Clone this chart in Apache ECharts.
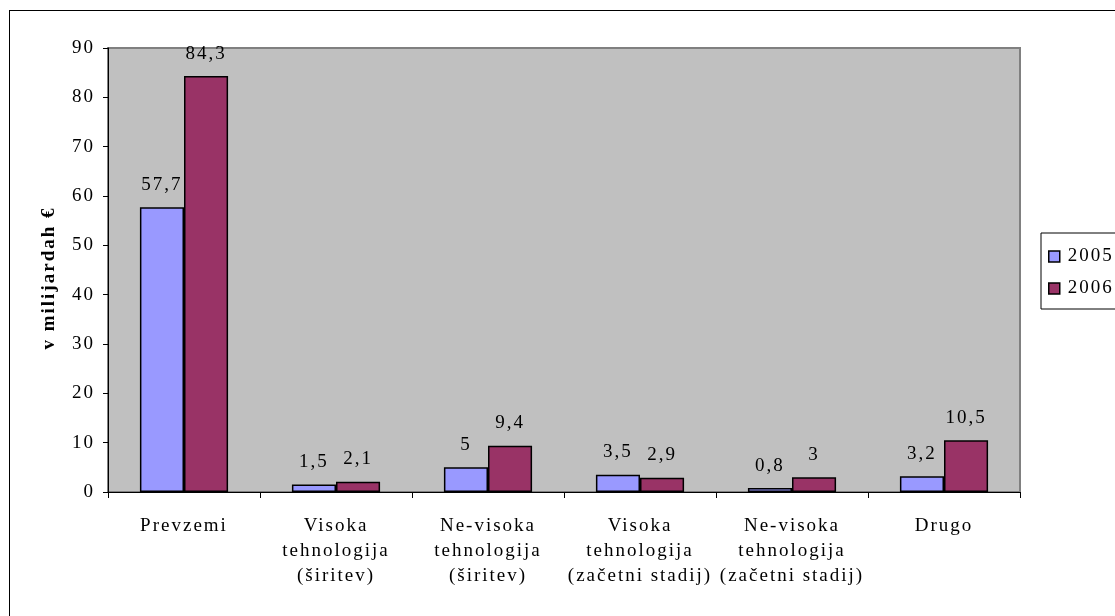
<!DOCTYPE html>
<html>
<head>
<meta charset="utf-8">
<script src="https://cdn.jsdelivr.net/npm/echarts@6/dist/echarts.min.js"></script>
<style>
  html, body { margin: 0; padding: 0; background: #fff; overflow: hidden; }
  #frame {
    position: absolute; left: 9px; top: 10px;
    width: 1200px; height: 700px;
    border: 1px solid #000;
  }
  #chart { position: absolute; left: 0; top: 0; width: 1115px; height: 616px; }
</style>
</head>
<body>
<div id="frame"></div>
<div id="chart"></div>
<script>
const categories = [
  "Prevzemi",
  "Visoka\ntehnologija\n(širitev)",
  "Ne-visoka\ntehnologija\n(širitev)",
  "Visoka\ntehnologija\n(začetni stadij)",
  "Ne-visoka\ntehnologija\n(začetni stadij)",
  "Drugo"
];
const values2005 = [57.7, 1.5, 5, 3.5, 0.8, 3.2];
const values2006 = [84.3, 2.1, 9.4, 2.9, 3, 10.5];
const seriesNames = ["2005", "2006"];

// the original (Excel) lettering is spaced out, so give canvas text some tracking
const proto = CanvasRenderingContext2D.prototype;
const origFill = proto.fillText;
const origMeasure = proto.measureText;
proto.fillText = function () { this.letterSpacing = "2px"; return origFill.apply(this, arguments); };
proto.measureText = function () { this.letterSpacing = "2px"; return origMeasure.apply(this, arguments); };

const font = "'Liberation Serif', 'Times New Roman', serif";
const chart = echarts.init(document.getElementById("chart"));

function label() {
  return {
    show: true,
    position: "top",
    distance: 12,
    color: "#000",
    fontFamily: font,
    fontSize: 19,
    formatter: p => String(p.value).replace(".", ",")
  };
}

chart.setOption({
  animation: false,
  textStyle: { fontFamily: font },
  grid: {
    left: 108, top: 48, right: 95, bottom: 124,
    show: true,
    backgroundColor: "#C0C0C0",
    borderColor: "#808080",
    borderWidth: 2
  },
  legend: {
    orient: "vertical",
    left: 1041,
    top: 233,
    padding: [13, 10, 10, 7],
    itemGap: 11,
    itemWidth: 11,
    itemHeight: 11,
    icon: "rect",
    borderColor: "#000",
    borderWidth: 1,
    backgroundColor: "#fff",
    textStyle: { fontFamily: font, fontSize: 19, color: "#000", padding: [0, 0, 0, 3] },
    itemStyle: { borderColor: "#000", borderWidth: 1.5 },
    data: seriesNames
  },
  xAxis: {
    type: "category",
    data: categories,
    axisLine: { lineStyle: { color: "#000", width: 1 } },
    axisTick: { show: true, length: 6, alignWithLabel: false, lineStyle: { color: "#000" } },
    axisLabel: {
      color: "#000",
      fontFamily: font,
      fontSize: 19,
      lineHeight: 25,
      margin: 22,
      interval: 0
    }
  },
  yAxis: {
    type: "value",
    min: 0,
    max: 90,
    interval: 10,
    name: "v milijardah €",
    nameLocation: "middle",
    nameGap: 48,
    nameTextStyle: {
      fontFamily: font, fontSize: 19, fontWeight: "bold", color: "#000",
      padding: [0, 16, 0, 0]
    },
    axisLine: { show: true, lineStyle: { color: "#000", width: 1 } },
    axisTick: { show: true, length: 5, lineStyle: { color: "#000" } },
    splitLine: { show: false },
    axisLabel: { color: "#000", fontFamily: font, fontSize: 19, margin: 13 }
  },
  series: [
    {
      name: seriesNames[0],
      type: "bar",
      data: values2005,
      barGap: "0%",
      barCategoryGap: "42%",
      itemStyle: { color: "#9999FF", borderColor: "#000", borderWidth: 1.5 },
      label: label()
    },
    {
      name: seriesNames[1],
      type: "bar",
      data: values2006,
      itemStyle: { color: "#993366", borderColor: "#000", borderWidth: 1.5 },
      label: label()
    }
  ]
});
</script>
</body>
</html>
